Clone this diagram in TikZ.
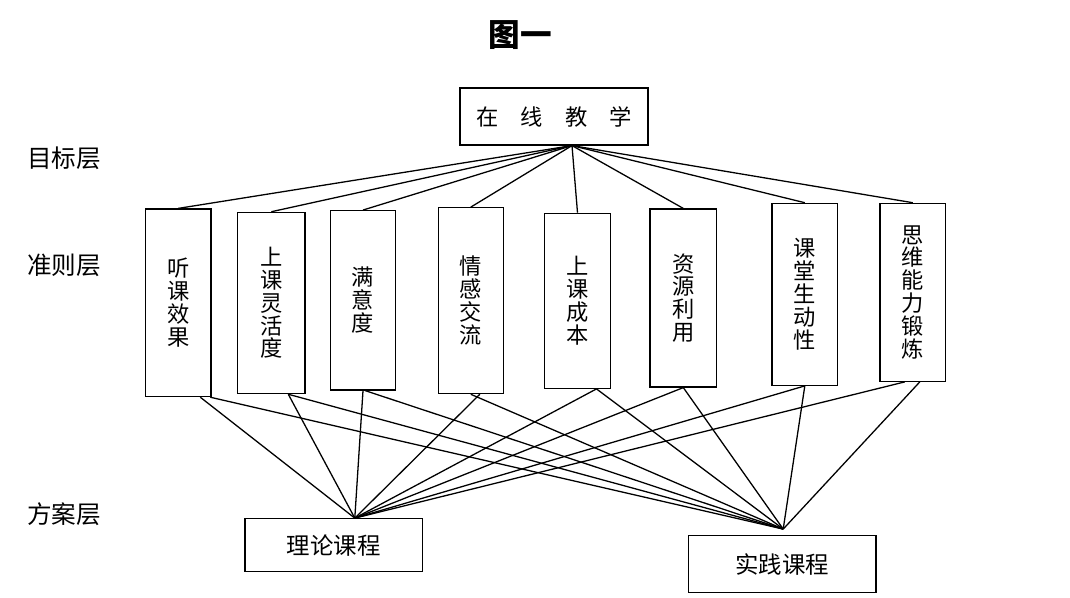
\documentclass[tikz,border=0pt]{standalone}
\usepackage{fontspec}
\newfontfamily\cjk{Noto Sans CJK SC}
\usetikzlibrary{calc}
\begin{document}
\begin{tikzpicture}[x=0.03cm,y=-0.03cm,
  box/.style={draw, line width=1pt, inner sep=0pt, font=\cjk},
  crit/.style={box, align=center, font=\cjk\fontsize{19}{19.5}\selectfont},
  plan/.style={box, font=\cjk\fontsize{20}{22}\selectfont},
  layer/.style={font=\cjk\fontsize{21}{24}\selectfont},
  link/.style={draw, line width=1.1pt}]
\useasboundingbox (0,0) rectangle (1070,598);

\node[font=\cjk\bfseries\fontsize{27}{30}\selectfont] (title) at (520,35) {图一};

\node[layer] (l1) at (64,158) {目标层};
\node[layer] (l2) at (64,265) {准则层};
\node[layer] (l3) at (64,514) {方案层};

\node[box, minimum width=5.64cm, minimum height=1.71cm, font=\cjk\fontsize{19}{22}\selectfont] (top) at (554,116.5)
  {在\hspace{19pt}线\hspace{19pt}教\hspace{19pt}学};

\node[crit, minimum width=1.96cm, minimum height=5.63cm] (c1) at (178.3,302.8) {听\\课\\效\\果};
\node[crit, minimum width=2.02cm, minimum height=5.44cm] (c2) at (271.3,303) {上\\课\\灵\\活\\度};
\node[crit, minimum width=1.96cm, minimum height=5.38cm] (c3) at (363,300.3) {满\\意\\度};
\node[crit, minimum width=1.95cm, minimum height=5.58cm] (c4) at (470.8,300.7) {情\\感\\交\\流};
\node[crit, minimum width=1.97cm, minimum height=5.25cm] (c5) at (577.5,300.8) {上\\课\\成\\本};
\node[crit, minimum width=2.00cm, minimum height=5.34cm] (c6) at (683.3,298) {资\\源\\利\\用};
\node[crit, minimum width=1.97cm, minimum height=5.46cm] (c7) at (804.8,294.3) {课\\堂\\生\\动\\性};
\node[crit, minimum width=1.97cm, minimum height=5.34cm] (c8) at (912.8,292.3) {思\\维\\能\\力\\锻\\炼};

\node[plan, minimum width=5.33cm, minimum height=1.59cm] (llk) at (333.8,545.2) {理论课程};
\node[plan, minimum width=5.63cm, minimum height=1.70cm] (sjk) at (782.2,564) {实践课程};

\coordinate (tp) at ($(top.south)+(18,0)$);
\coordinate (lp) at ($(llk.north)+(21,0)$);
\coordinate (sp) at ($(sjk.north)+(1,-6)$);

\foreach \c in {c1,c2,c3,c4,c5,c6,c7,c8}
  \draw[link] (tp) -- (\c.north);

% criteria to theory course
\draw[link] ($(c1.south)+(22,0)$) -- (lp);
\draw[link] ($(c2.south)+(17,0)$) -- (lp);
\draw[link] (c3.south) -- (lp);
\draw[link] ($(c4.south)+(9,0)$) -- (lp);
\draw[link] ($(c5.south)+(19,0)$) -- (lp);
\draw[link] (c6.south) -- (lp);
\draw[link] (c7.south) -- (lp);
\draw[link] ($(c8.south)+(-8,0)$) -- (lp);

% criteria to practice course
\draw[link] ($(c1.south)+(32,0)$) -- (sp);
\draw[link] ($(c2.south)+(17,0)$) -- (sp);
\draw[link] ($(c3.south)+(2,0)$) -- (sp);
\draw[link] (c4.south) -- (sp);
\draw[link] ($(c5.south)+(19,0)$) -- (sp);
\draw[link] (c6.south) -- (sp);
\draw[link] (c7.south) -- (sp);
\draw[link] ($(c8.south)+(7,0)$) -- (sp);
\end{tikzpicture}
\end{document}
